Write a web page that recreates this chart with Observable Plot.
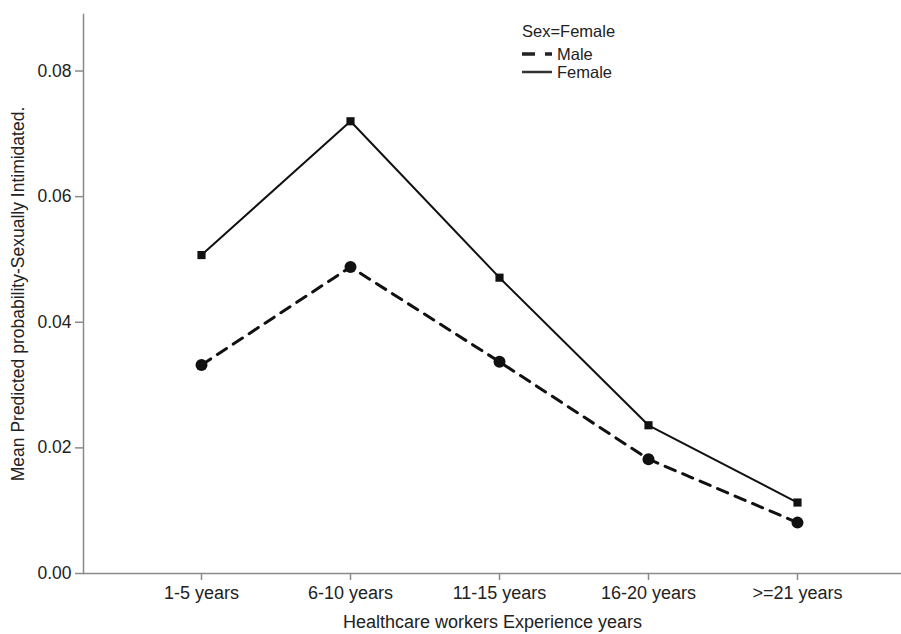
<!DOCTYPE html>
<html>
<head>
<meta charset="utf-8">
<script src="https://cdn.jsdelivr.net/npm/d3@7"></script>
<script src="https://cdn.jsdelivr.net/npm/@observablehq/plot@0.6"></script>
<style>
  html, body { margin: 0; padding: 0; background: #fff; }
  #wrap { position: relative; width: 901px; height: 634px; font-family: "Liberation Sans", Arial, sans-serif; color: #222; }
  #legend { position: absolute; left: 522px; top: 22px; font-size: 16.5px; line-height: 18px; }
  #legend .row { display: flex; align-items: center; height: 18px; }
  #legend svg { margin-right: 5px; }
</style>
</head>
<body>
<div id="wrap"></div>
<script>
const categories = ["1-5 years", "6-10 years", "11-15 years", "16-20 years", ">=21 years"];
const maleValues = [0.0332, 0.0488, 0.0337, 0.0182, 0.0081];
const femaleValues = [0.0507, 0.0720, 0.0471, 0.0236, 0.0113];
const yTicks = [0, 0.02, 0.04, 0.06, 0.08];
const legendTitle = "Sex=Female";
const seriesNames = ["Male", "Female"];

const male = categories.map((c, i) => ({cat: c, v: maleValues[i]}));
const female = categories.map((c, i) => ({cat: c, v: femaleValues[i]}));

const axisColor = "#8a8a8a";
const chart = Plot.plot({
  width: 901,
  height: 634,
  marginLeft: 83,
  marginRight: 0,
  marginTop: 14,
  marginBottom: 61,
  style: {fontFamily: "'Liberation Sans', Arial, sans-serif", fontSize: "17px", color: "#222", background: "#fff"},
  x: {type: "point", domain: categories, range: [200, 798], padding: 0},
  y: {domain: [0, 0.089], ticks: yTicks},
  marks: [
    Plot.frame({anchor: "left", stroke: axisColor, strokeWidth: 1.5}),
    Plot.ruleY([0], {stroke: axisColor, strokeWidth: 1.5}),
    Plot.axisY({ticks: yTicks, tickFormat: d3.format(".2f"), tickSize: 8, tickPadding: 4, stroke: axisColor, strokeWidth: 1.5, fill: "#222", fontSize: 17.5,
      label: "Mean Predicted probability-Sexually Intimidated.", labelAnchor: "center", labelArrow: "none", labelOffset: 72}),
    Plot.axisX({tickSize: 7, tickPadding: 6, stroke: axisColor, strokeWidth: 1.5, fill: "#222", fontSize: 18,
      label: "Healthcare workers Experience years", labelAnchor: "center", labelArrow: "none", labelOffset: 54}),
    Plot.line(female, {x: "cat", y: "v", stroke: "#111", strokeWidth: 2}),
    Plot.line(male, {x: "cat", y: "v", stroke: "#111", strokeWidth: 3, strokeDasharray: "11,8"}),
    Plot.dot(female, {x: "cat", y: "v", symbol: "square", r: 4.6, fill: "#111"}),
    Plot.dot(male, {x: "cat", y: "v", symbol: "circle", r: 6, fill: "#111"})
  ]
});
const wrap = document.getElementById("wrap");
wrap.appendChild(chart);

const legend = document.createElement("div");
legend.id = "legend";
legend.innerHTML = `<div style="margin-bottom:5px">${legendTitle}</div>` +
  `<div class="row"><svg width="30" height="10"><line x1="0" y1="5" x2="30" y2="5" stroke="#222" stroke-width="3.5" stroke-dasharray="13,10,7"/></svg>${seriesNames[0]}</div>` +
  `<div class="row"><svg width="30" height="10"><line x1="0" y1="5" x2="30" y2="5" stroke="#333" stroke-width="2.5"/></svg>${seriesNames[1]}</div>`;
wrap.appendChild(legend);
</script>
</body>
</html>
